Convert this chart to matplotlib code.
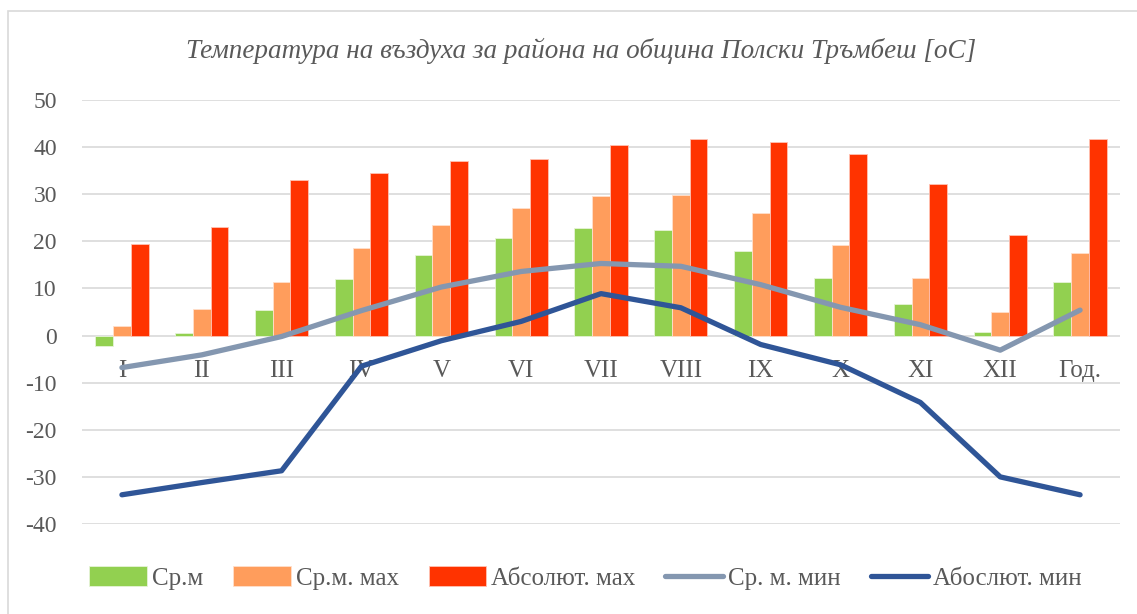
import matplotlib
matplotlib.use('Agg')
import numpy as np
import matplotlib.pyplot as plt
from matplotlib.patches import Rectangle

categories = ['I', 'II', 'III', 'IV', 'V', 'VI', 'VII', 'VIII', 'IX', 'X', 'XI', 'XII', 'Год.']
sr_m = [-2.2, 0.6, 5.5, 12.0, 17.2, 20.7, 22.9, 22.3, 18.0, 12.3, 6.8, 0.8, 11.4]
sr_m_max = [2.0, 5.7, 11.4, 18.5, 23.4, 27.0, 29.6, 29.8, 26.0, 19.3, 12.3, 5.1, 17.5]
abs_max = [19.5, 23.1, 33.1, 34.5, 37.1, 37.5, 40.5, 41.8, 41.0, 38.6, 32.1, 21.4, 41.8]
sr_m_min = [-6.8, -4.1, -0.2, 5.3, 10.3, 13.6, 15.3, 14.7, 10.8, 6.0, 2.3, -3.1, 5.4]
abs_min = [-33.8, -31.2, -28.7, -6.5, -1.1, 3.0, 8.9, 5.9, -1.9, -6.2, -14.2, -30.0, -33.8]

plt.rcParams['font.family'] = ['Liberation Serif', 'DejaVu Serif']
plt.rcParams['axes.unicode_minus'] = False

fig = plt.figure(figsize=(11.37, 6.14), dpi=100)
ax = fig.add_axes([82/1137, 1 - 524/614, (1120 - 82)/1137, (524 - 100)/614])

x = np.arange(len(categories))
w = 0.222
b1 = ax.bar(x - w, sr_m, w, color='#92D050', edgecolor='#E6F4D8', linewidth=0.6, label='Ср.м', zorder=2)
b2 = ax.bar(x, sr_m_max, w, color='#FF9D5C', edgecolor='#FFE0CC', linewidth=0.6, label='Ср.м. мах', zorder=2)
b3 = ax.bar(x + w, abs_max, w, color='#FF3300', edgecolor='#FFC2B3', linewidth=0.6, label='Абсолют. мах', zorder=2)
l1, = ax.plot(x, sr_m_min, color='#8497B0', lw=3.8, label='Ср. м. мин', zorder=3, solid_capstyle='round')
l2, = ax.plot(x, abs_min, color='#2F5597', lw=3.8, label='Абослют. мин', zorder=3, solid_capstyle='round')

ax.set_xlim(-0.5, len(categories) - 0.5)
ax.set_ylim(-40, 50)
ax.set_yticks(np.arange(-40, 51, 10))
ax.yaxis.grid(True, color='#D9D9D9', lw=1.2)
ax.set_axisbelow(True)
ax.set_xticks([])
ax.tick_params(axis='y', length=0, pad=18, labelsize=17, labelcolor='#595959')
for s in ax.spines.values():
    s.set_visible(False)

for i, c in enumerate(categories):
    ax.text(i, -7.6, c, ha='center', va='center', fontsize=18, color='#595959', zorder=1)

ax.set_title('Температура на въздуха за района на община Полски Тръмбеш [oC]',
             fontsize=19.5, style='italic', color='#595959', pad=30, x=0.481)

handles = [b1, b2, b3, l1, l2]
fig.legend(handles, [h.get_label() for h in handles], loc='center',
           bbox_to_anchor=(0.515, 1 - 578/614), ncol=5, frameon=False,
           fontsize=18, handlelength=2.3, handleheight=0.8, columnspacing=1.2,
           handletextpad=0.2, labelcolor='#595959')

fig.patches.append(Rectangle((8/1137, -0.02), 1.05, 1 - 11/614 + 0.02, transform=fig.transFigure,
                             fill=False, edgecolor='#D9D9D9', lw=1.2))

fig.savefig('out.png', dpi=100)
